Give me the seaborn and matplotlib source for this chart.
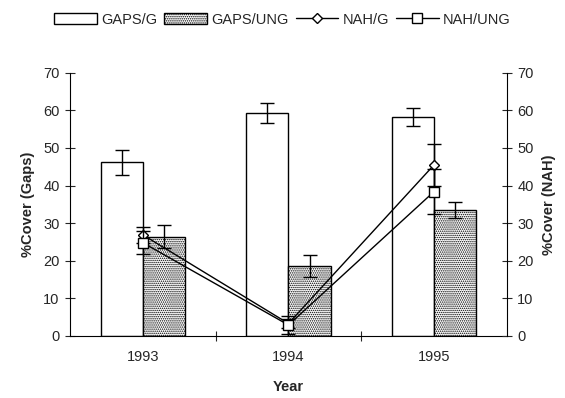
import numpy as np
import pandas as pd
import matplotlib
matplotlib.use("Agg")
import matplotlib.pyplot as plt
from matplotlib.patches import Patch
from matplotlib.lines import Line2D
from matplotlib.ticker import MultipleLocator, FixedLocator
import seaborn as sns

# Percent cover by year
years = ["1993", "1994", "1995"]
gaps_g = [46.2, 59.3, 58.2]
gaps_g_err = [3.3, 2.6, 2.4]
gaps_ung = [26.4, 18.6, 33.4]
gaps_ung_err = [3.0, 3.0, 2.1]
nah_g = [26.9, 3.3, 45.5]
nah_g_err = [2.2, 1.2, 5.5]
nah_ung = [24.8, 2.9, 38.4]
nah_ung_err = [3.1, 2.3, 6.0]
series_names = ["GAPS/G", "GAPS/UNG", "NAH/G", "NAH/UNG"]

sns.set_theme(style="white")
plt.rcParams["font.family"] = ["Liberation Sans", "DejaVu Sans"]
plt.rcParams["hatch.linewidth"] = 0.7

STIPPLE = "........"

df = pd.DataFrame({
    "Year": years * 2,
    "Cover": gaps_g + gaps_ung,
    "Err": gaps_g_err + gaps_ung_err,
    "Series": [series_names[0]] * 3 + [series_names[1]] * 3,
})

fig = plt.figure(figsize=(5.65, 3.98), dpi=100)
ax = fig.add_axes([0.124, 0.156, 0.773, 0.661])

sns.barplot(data=df, x="Year", y="Cover", hue="Series", order=years,
            hue_order=series_names[:2], palette=["white", "white"],
            errorbar=None, width=0.58, edgecolor="black", linewidth=1.0,
            legend=False, ax=ax)

# Stipple the ungrazed bars and add error bars at each bar's centre
bars = ax.patches
for i, p in enumerate(bars[:6]):
    if i >= 3:
        p.set_hatch(STIPPLE)
    xc = p.get_x() + p.get_width() / 2
    ax.errorbar(xc, df["Cover"].iloc[i], yerr=df["Err"].iloc[i], fmt="none",
                ecolor="black", elinewidth=1.0, capsize=5, capthick=1.0, zorder=3)

ax.set_xlim(-0.5, 2.5)
ax.set_ylim(0, 70)
ax.yaxis.set_major_locator(MultipleLocator(10))
ax.set_xlabel("Year", fontsize=10.5, fontweight="bold", labelpad=12)
ax.set_ylabel("%Cover (Gaps)", fontsize=10.5, fontweight="bold", labelpad=6)
ax.xaxis.set_minor_locator(FixedLocator([0.5, 1.5]))
ax.tick_params(axis="x", which="major", length=0, pad=10, labelsize=10.5)
ax.tick_params(axis="x", which="minor", length=7, direction="inout", width=0.8, bottom=True)
ax.tick_params(axis="y", length=7, direction="inout", width=0.8, left=True, labelsize=10.5, pad=4)

# NAH cover on the secondary axis
ax2 = ax.twinx()
xpos = np.arange(len(years))
ax2.errorbar(xpos, nah_g, yerr=nah_g_err, color="black", lw=1.0, marker="D",
             ms=5, mfc="white", mec="black", mew=1.0, capsize=5, capthick=1.0, zorder=4)
ax2.errorbar(xpos, nah_ung, yerr=nah_ung_err, color="black", lw=1.0, marker="s",
             ms=6.5, mfc="white", mec="black", mew=1.0, capsize=5, capthick=1.0, zorder=5)
ax2.set_ylim(0, 70)
ax2.yaxis.set_major_locator(MultipleLocator(10))
ax2.set_ylabel("%Cover (NAH)", fontsize=10.5, fontweight="bold", labelpad=6)
ax2.tick_params(axis="y", length=7, direction="inout", width=0.8, right=True, labelsize=10.5, pad=4)
ax2.grid(False)

for a in (ax, ax2):
    a.spines["top"].set_visible(False)
    for s in ("left", "right", "bottom"):
        a.spines[s].set_color("black")
        a.spines[s].set_linewidth(0.8)
ax.spines["right"].set_visible(False)
ax2.spines["left"].set_visible(False)
ax2.spines["bottom"].set_visible(False)

handles = [
    Patch(facecolor="white", edgecolor="black", linewidth=1.0),
    Patch(facecolor="white", edgecolor="black", linewidth=1.0, hatch=STIPPLE),
    Line2D([], [], color="black", lw=1.0, marker="D", ms=5, mfc="white", mec="black"),
    Line2D([], [], color="black", lw=1.0, marker="s", ms=6.5, mfc="white", mec="black"),
]
fig.legend(handles, series_names, loc="upper center", bbox_to_anchor=(0.5, 0.99),
           ncol=4, frameon=False, fontsize=10.5, handlelength=2.9, handleheight=0.8,
           handletextpad=0.3, columnspacing=0.5, borderaxespad=0.2)

fig.savefig("out.png", dpi=100)
